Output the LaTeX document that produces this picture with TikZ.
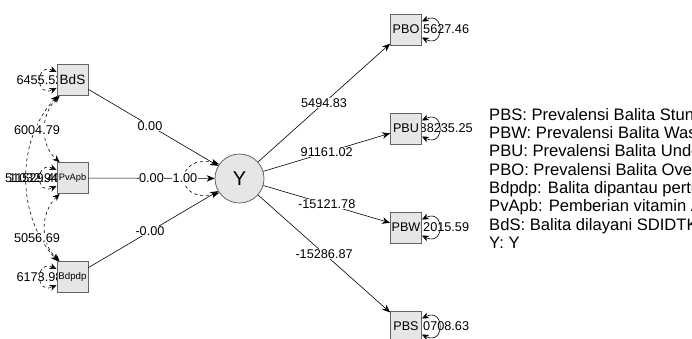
\documentclass[tikz,border=0pt]{standalone}
\usepackage{fontspec}
\setmainfont{Liberation Sans}
\usetikzlibrary{arrows.meta}
\definecolor{boxfill}{RGB}{230,230,230}
\definecolor{boxline}{RGB}{100,100,100}
\pgfdeclarelayer{bg}
\pgfsetlayers{bg,main}
\begin{document}
\begin{tikzpicture}[x=1pt,y=-1pt,
  man/.style={draw=boxline, fill=boxfill, line width=0.8pt, minimum size=31pt, inner sep=0pt, font=\fontsize{12.6}{14}\selectfont},
  lat/.style={circle, draw=boxline, fill=boxfill, line width=0.8pt, minimum size=49pt, inner sep=0pt, font=\fontsize{20}{22}\selectfont},
  edgeline/.style={draw, line width=0.6pt, -{Stealth[length=8pt,width=6.5pt]}},
  covline/.style={draw, dashed, line width=0.6pt, {Stealth[length=7pt,width=6pt]}-{Stealth[length=7pt,width=6pt]}},
  resline/.style={draw, line width=0.6pt, {Stealth[length=7pt,width=6pt]}-{Stealth[length=7pt,width=6pt]}},
  elab/.style={fill=white, inner sep=0.6pt, font=\fontsize{12.7}{14}\selectfont},
  vlab/.style={inner sep=0pt, font=\fontsize{12.7}{14}\selectfont},
  legtext/.style={anchor=north west, align=left, inner sep=0pt, font=\fontsize{16.6}{18.3}\selectfont}
]
\useasboundingbox (0,0) rectangle (692,338);
\begin{scope}
\clip (0,0) rectangle (692,338);
% nodes
\node[man] (BdS) at (72.5,80) {\fontsize{13.5}{15}\selectfont BdS};
\node[man] (PvApb) at (72.5,178) {\fontsize{9.3}{11}\selectfont PvApb};
\node[man] (Bdpdp) at (72.5,277) {\fontsize{9.7}{11}\selectfont Bdpdp};
\node[lat] (Y) at (239.5,178.5) {Y};
\node[man] (PBO) at (406,29.5) {PBO};
\node[man] (PBU) at (406,128.5) {PBU};
\node[man] (PBW) at (406,227.5) {PBW};
\node[man] (PBS) at (406,326.5) {PBS};

\begin{pgfonlayer}{bg}
% residual labels (drawn under loops and boxes)
\node[vlab] (vBdS) at (39.5,80) {6455.52};
\node[vlab, anchor=west] (vPvA) at (5,178) {51032.94};
\node[vlab, anchor=west] (vPvB) at (9,178) {11529.40};
\node[vlab] (vBdpdp) at (39.5,277) {6173.98};
\node[vlab, anchor=west] (vPBO) at (423,29.5) {5627.46};
\node[vlab, anchor=west] (vPBU) at (419.5,128.5) {88235.25};
\node[vlab, anchor=west] (vPBW) at (423,227.5) {2015.59};
\node[vlab, anchor=west] (vPBS) at (423,326.5) {0708.63};
% left residual loops
\draw[covline] ([yshift=8pt]BdS.west) .. controls (35,62) and (35,98) .. ([yshift=-8pt]BdS.west);
\draw[covline] ([yshift=8pt]PvApb.west) .. controls (35,160) and (35,196) .. ([yshift=-8pt]PvApb.west);
\draw[covline] ([yshift=8pt]Bdpdp.west) .. controls (35,259) and (35,295) .. ([yshift=-8pt]Bdpdp.west);
% right residual loops
\draw[resline] ([yshift=8pt]PBO.east) .. controls (445,10) and (445,49) .. ([yshift=-8pt]PBO.east);
\draw[resline] ([yshift=8pt]PBU.east) .. controls (445,109) and (445,148) .. ([yshift=-8pt]PBU.east);
\draw[resline] ([yshift=8pt]PBW.east) .. controls (445,208) and (445,247) .. ([yshift=-8pt]PBW.east);
\draw[resline] ([yshift=8pt]PBS.east) .. controls (445,307) and (445,346) .. ([yshift=-8pt]PBS.east);
% covariances
\draw[covline] ([xshift=3pt]BdS.south west) .. controls (40,115) and (40,145) .. ([xshift=3pt]PvApb.north west);
\draw[covline] ([xshift=3pt]PvApb.south west) .. controls (40,213) and (40,243) .. ([xshift=3pt]Bdpdp.north west);
\draw[covline] ([xshift=1pt]BdS.south west) .. controls (16,140) and (16,215) .. ([xshift=1pt]Bdpdp.north west);
\node[elab] (c1) at (37,130) {6004.79};
\node[elab] (c2) at (37,238) {5056.69};
\end{pgfonlayer}

% regressions
\draw[edgeline] (BdS) -- node[elab, pos=0.475] {0.00} (Y);
\draw[edgeline] (PvApb) -- node[elab, pos=0.5] {0.00} (Y);
\draw[edgeline] (Bdpdp) -- node[elab, pos=0.475] {-0.00} (Y);
\draw[covline] (Y.145) .. controls (173.5,152) and (173.5,205) .. node[elab, pos=0.5] {1.00} (Y.215);
\draw[edgeline] (Y) -- node[elab, pos=0.5] {5494.83} (PBO);
\draw[edgeline] (Y) -- node[elab, pos=0.5] {91161.02} (PBU);
\draw[edgeline] (Y) -- node[elab, pos=0.5] {-15121.78} (PBW);
\draw[edgeline] (Y) -- node[elab, pos=0.5] {-15286.87} (PBS);

% legend
\node[legtext] (legend) at (489,108) {PBS: Prevalensi Balita Stunting\\
PBW: Prevalensi Balita Wasting\\
PBU: Prevalensi Balita Underweight\\
PBO: Prevalensi Balita Overweight\\
Bdpdp: Balita dipantau pertumbuhan\\
PvApb: Pemberian vitamin A\\
BdS: Balita dilayani SDIDTK\\
Y: Y};
\end{scope}
\end{tikzpicture}
\end{document}
